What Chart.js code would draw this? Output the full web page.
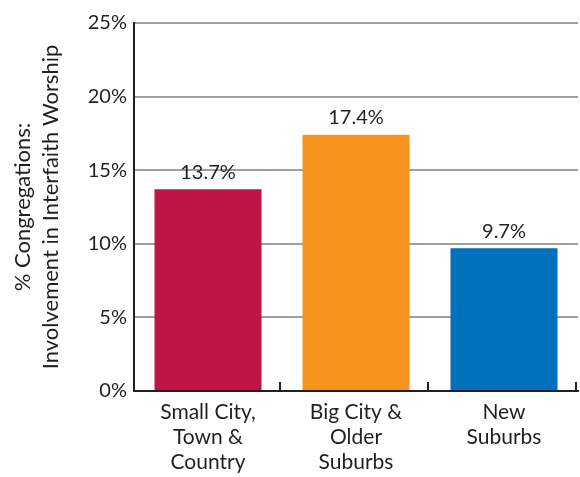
<!DOCTYPE html>
<html>
<head>
<meta charset="utf-8">
<script src="https://cdn.jsdelivr.net/npm/chart.js@4"></script>
<style>
  html, body { margin: 0; padding: 0; background: #fff; }
  #wrap { width: 580px; height: 477px; }
</style>
</head>
<body>
<div id="wrap"><canvas id="chart"></canvas></div>
<script>
// Daten
const categories = [
  ['Small City,', 'Town &', 'Country'],
  ['Big City &', 'Older', 'Suburbs'],
  ['New', 'Suburbs']
];
const values = [13.7, 17.4, 9.7];
const barColors = ['#BE1545', '#F7941E', '#0071BC'];
const yTicks = [0, 5, 10, 15, 20, 25];
const yTitle = ['% Congregations:', 'Involvement in Interfaith Worship'];

const FONT = 'Lato, "Open Sans", sans-serif';

// Wertebeschriftung über den Balken
const valueLabels = {
  id: 'valueLabels',
  afterDatasetsDraw(chart) {
    const ctx = chart.ctx;
    const meta = chart.getDatasetMeta(0);
    ctx.save();
    ctx.font = '20px ' + FONT;
    ctx.fillStyle = '#231f20';
    ctx.textAlign = 'center';
    ctx.textBaseline = 'bottom';
    meta.data.forEach((bar, i) => {
      ctx.fillText(values[i].toFixed(1) + '%', bar.x, bar.y - 7);
    });
    ctx.restore();
  }
};

// kleine Teilstriche zwischen den Kategorien (nach oben)
const catTicks = {
  id: 'catTicks',
  afterDraw(chart) {
    const x = chart.scales.x;
    const ctx = chart.ctx;
    const half = (x.getPixelForValue(1) - x.getPixelForValue(0)) / 2;
    ctx.save();
    ctx.strokeStyle = '#231f20';
    ctx.lineWidth = 2;
    for (let i = 0; i < categories.length; i++) {
      const px = Math.round(x.getPixelForValue(i) + half) - 2;
      ctx.beginPath();
      ctx.moveTo(px, x.top);
      ctx.lineTo(px, x.top - 9);
      ctx.stroke();
    }
    ctx.restore();
  }
};

new Chart(document.getElementById('chart'), {
  type: 'bar',
  data: {
    labels: categories,
    datasets: [{
      data: values,
      backgroundColor: barColors,
      borderWidth: 0,
      categoryPercentage: 1,
      barPercentage: 0.723
    }]
  },
  options: {
    responsive: true,
    maintainAspectRatio: false,
    animation: false,
    layout: { padding: { top: 23, right: 2, left: 0, bottom: 0 } },
    plugins: {
      legend: { display: false },
      tooltip: { enabled: false }
    },
    scales: {
      x: {
        grid: { display: false, drawTicks: false },
        border: { display: true, color: '#231f20', width: 2 },
        ticks: {
          color: '#231f20',
          font: { family: FONT, size: 21, lineHeight: 1.19 },
          padding: 9,
          maxRotation: 0,
          autoSkip: false
        },
        afterFit(scale) { scale.height = 86; }
      },
      y: {
        min: 0,
        max: 25,
        afterBuildTicks(scale) { scale.ticks = yTicks.map(v => ({ value: v })); },
        grid: { color: '#9d9fa2', lineWidth: 2, drawTicks: false },
        border: { display: true, color: '#231f20', width: 2 },
        ticks: {
          color: '#231f20',
          font: { family: FONT, size: 20 },
          padding: 7,
          callback: v => v + '%'
        },
        title: {
          display: true,
          text: yTitle,
          color: '#231f20',
          font: { family: FONT, size: 22, lineHeight: 1.27 },
          padding: { top: 9, bottom: 0 }
        },
        afterFit(scale) { scale.width = 134; }
      }
    }
  },
  plugins: [valueLabels, catTicks]
});
</script>
</body>
</html>
